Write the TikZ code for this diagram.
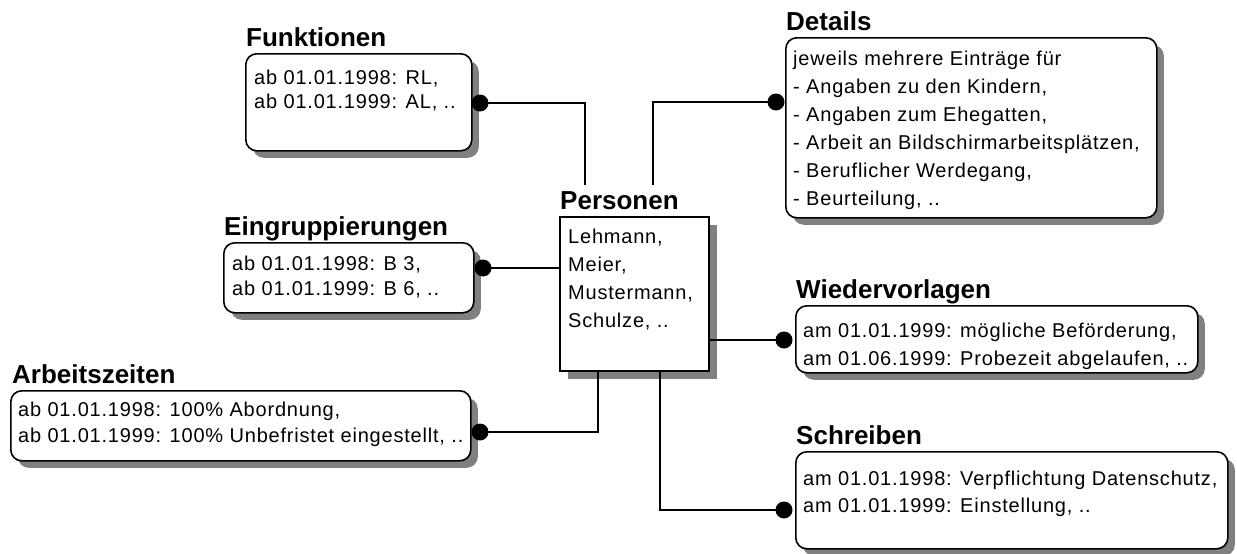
\documentclass[tikz,border=0pt]{standalone}
\usepackage{fontspec}
\setmainfont{Liberation Sans}
\newfontfamily\bodyfont[LetterSpace=4]{Liberation Sans}
\usetikzlibrary{shadows,calc}
\tikzset{
  box/.style={draw, line width=1.6pt, fill=white, rounded corners=11pt, inner sep=0pt, anchor=north west,
    drop shadow={shadow xshift=7pt, shadow yshift=-7pt, fill=black!50, opacity=1}},
  sqbox/.style={draw, line width=1.6pt, fill=white, inner sep=0pt, anchor=north west,
    drop shadow={shadow xshift=8pt, shadow yshift=-8pt, fill=black!50, opacity=1}},
  ttl/.style={anchor=base west, inner sep=0pt, font=\fontsize{26}{30}\selectfont\bfseries},
  txt/.style={anchor=north west, inner sep=0pt, align=left, font=\bodyfont\fontsize{20}{#1}\selectfont, execute at begin node=\rule{0pt}{16pt}},
  txt/.default=28,
  dot/.style={circle, fill=black, inner sep=0pt, minimum size=17pt},
  conn/.style={line width=1.8pt},
}
\begin{document}
\begin{tikzpicture}[x=1pt,y=-1pt]
\useasboundingbox (0,0) rectangle (1237,554);
% boxes
\node[box, minimum width=226pt, minimum height=97pt] (fun) at (245,53) {};
\node[ttl] (funT) at (246,46) {Funktionen};
\node[txt=24] (funX) at (254,69.5) {ab 01.01.1998: RL,\\ab 01.01.1999: AL, ..};

\node[box, minimum width=371pt, minimum height=180pt] (det) at (785,37) {};
\node[ttl] (detT) at (786,30) {Details};
\node[txt=28] (detX) at (793,50.5) {jeweils mehrere Einträge für\\- Angaben zu den Kindern,\\- Angaben zum Ehegatten,\\- Arbeit an Bildschirmarbeitsplätzen,\\- Beruflicher Werdegang,\\- Beurteilung, ..};

\node[sqbox, minimum width=149pt, minimum height=154pt] (pers) at (559,216) {};
\node[ttl] (persT) at (560,209) {Personen};
\node[txt=28] (persX) at (568,229) {Lehmann,\\Meier,\\Mustermann,\\Schulze, ..};

\node[box, minimum width=250pt, minimum height=70pt] (ein) at (223,242) {};
\node[ttl] (einT) at (224,235) {Eingruppierungen};
\node[txt=25] (einX) at (232,255.5) {ab 01.01.1998: B 3,\\ab 01.01.1999: B 6, ..};

\node[box, minimum width=402pt, minimum height=67pt] (wie) at (795,305) {};
\node[ttl] (wieT) at (796,298) {Wiedervorlagen};
\node[txt=28] (wieX) at (803,322.5) {am 01.01.1999: mögliche Beförderung,\\am 01.06.1999: Probezeit abgelaufen, ..};

\node[box, minimum width=460pt, minimum height=70pt] (arb) at (10,390) {};
\node[ttl] (arbT) at (12,383) {Arbeitszeiten};
\node[txt=26] (arbX) at (18,402) {ab 01.01.1998: 100\% Abordnung,\\ab 01.01.1999: 100\% Unbefristet eingestellt, ..};

\node[box, minimum width=432pt, minimum height=97pt] (sch) at (795,451) {};
\node[ttl] (schT) at (796,444) {Schreiben};
\node[txt=27] (schX) at (803,470.5) {am 01.01.1998: Verpflichtung Datenschutz,\\am 01.01.1999: Einstellung, ..};

% connector end points
\coordinate (pFun) at (585,185);
\coordinate (pDet) at (653,185);
\coordinate (pArb) at ($(pers.south west)+(39,0)$);
\coordinate (pSch) at ($(pers.south west)+(101,0)$);
\coordinate (cFun) at (480,103);
\coordinate (cDet) at (776,102);
\coordinate (cEin) at (483,268);
\coordinate (cWie) at (784,340);
\coordinate (cArb) at (480,432);
\coordinate (cSch) at (784,510);

% connectors
\draw[conn] (cFun) -| (pFun);
\draw[conn] (cDet) -| (pDet);
\draw[conn] (cEin) -- (cEin -| pers.west);
\draw[conn] (pers.east |- cWie) -- (cWie);
\draw[conn] (cArb) -| (pArb);
\draw[conn] (pSch) |- (cSch);

% dots
\node[dot] (dFun) at (cFun) {};
\node[dot] (dDet) at (cDet) {};
\node[dot] (dEin) at (cEin) {};
\node[dot] (dWie) at (cWie) {};
\node[dot] (dArb) at (cArb) {};
\node[dot] (dSch) at (cSch) {};
\end{tikzpicture}
\end{document}
